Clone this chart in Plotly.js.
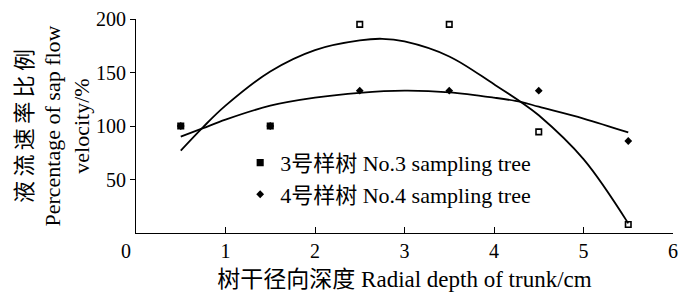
<!DOCTYPE html>
<html>
<head>
<meta charset="utf-8">
<script src="https://cdn.plot.ly/plotly-3.0.1.min.js"></script>
<style>html,body{margin:0;padding:0;background:#fff;}#chart{width:700px;height:292px;}</style>
</head>
<body>
<div id="chart"></div>
<script>
// Measured points
const depth = [0.5, 1.5, 2.5, 3.5, 4.5, 5.5];
const tree3 = [100, 100, 195, 195, 94.5, 8];
const tree4 = [100, 100, 133, 133, 133, 86];

// Fitted curves
const fitX3 = [0.5, 0.75, 1.0, 1.5, 2.0, 2.5, 2.75, 3.0, 3.5, 4.0, 4.3, 4.5, 5.0, 5.5];
const fitY3 = [77, 99, 119, 151, 171, 180, 181.5, 179, 165, 139, 122.5, 110, 69, 9];
const fitX4 = [0.5, 0.75, 1.0, 1.5, 2.0, 2.5, 3.0, 3.5, 4.0, 4.3, 4.5, 5.0, 5.5];
const fitY4 = [90, 98, 106, 119, 126.5, 131, 133, 131.5, 126.5, 122.5, 118, 107, 94];

// Tick labels
const xTickVals = [0, 1, 2, 3, 4, 5, 6];
const xTickText = ['0\u00a0\u00a0\u00a0\u00a0', '1', '2', '3', '4', '5', '6'];
const yTickVals = [50, 100, 150, 200];
const yTickText = ['50', '100', '150', '200'];

const names = ['3号样树 No.3 sampling tree', '4号样树 No.4 sampling tree'];

const FONT = '"Liberation Serif", "DejaVu Serif", "Noto Sans CJK SC", serif';

const traces = [
  {x: fitX3, y: fitY3, mode: 'lines', line: {color: '#000', width: 1.8, shape: 'spline', smoothing: 1}, showlegend: false, hoverinfo: 'skip'},
  {x: fitX4, y: fitY4, mode: 'lines', line: {color: '#000', width: 1.8, shape: 'spline', smoothing: 1}, showlegend: false, hoverinfo: 'skip'},
  {x: depth, y: tree4, name: names[1], mode: 'markers',
   marker: {symbol: 'diamond', size: 6, color: '#000'}},
  {x: depth, y: tree3, name: names[0], mode: 'markers',
   marker: {symbol: ['square', 'square', 'square-open', 'square-open', 'square-open', 'square-open'], size: 5.5, color: '#000', line: {color: '#000', width: 1.6}}}
];

const layout = {
  width: 700, height: 292,
  margin: {l: 136, r: 27, t: 19, b: 59},
  paper_bgcolor: '#fff', plot_bgcolor: '#fff',
  font: {family: FONT, size: 20, color: '#000'},
  showlegend: true,
  legend: {x: 0.194, y: 0.426, xanchor: 'left', yanchor: 'top', traceorder: 'reversed',
           font: {family: FONT, size: 22, color: '#000'}, bgcolor: 'rgba(0,0,0,0)', borderwidth: 0,
           itemwidth: 30, tracegroupgap: 0},
  xaxis: {
    range: [0, 6], tickmode: 'array', tickvals: xTickVals, ticktext: xTickText,
    showline: true, linecolor: '#000', linewidth: 1, mirror: false,
    ticks: 'inside', ticklen: 6, tickcolor: '#000', tickwidth: 1,
    showgrid: false, zeroline: false,
    tickfont: {family: FONT, size: 20, color: '#000'},
    title: {text: '树干径向深度 Radial depth of trunk/cm', font: {family: FONT, size: 23, color: '#000'}, standoff: 10}
  },
  yaxis: {
    range: [0, 200], tickmode: 'array', tickvals: yTickVals, ticktext: yTickText,
    showline: true, linecolor: '#000', linewidth: 1,
    ticks: 'outside', ticklen: 5, tickcolor: '#000', tickwidth: 1,
    showgrid: false, zeroline: false,
    tickfont: {family: FONT, size: 20, color: '#000'},
    title: {text: '液\u2009流\u2009速\u2009率\u2009比\u2009例<br>Percentage of sap flow<br>velocity/%', font: {family: FONT, size: 22, color: '#000'}, standoff: 0}
  }
};

Plotly.newPlot('chart', traces, layout, {displayModeBar: false, staticPlot: true});
</script>
</body>
</html>
